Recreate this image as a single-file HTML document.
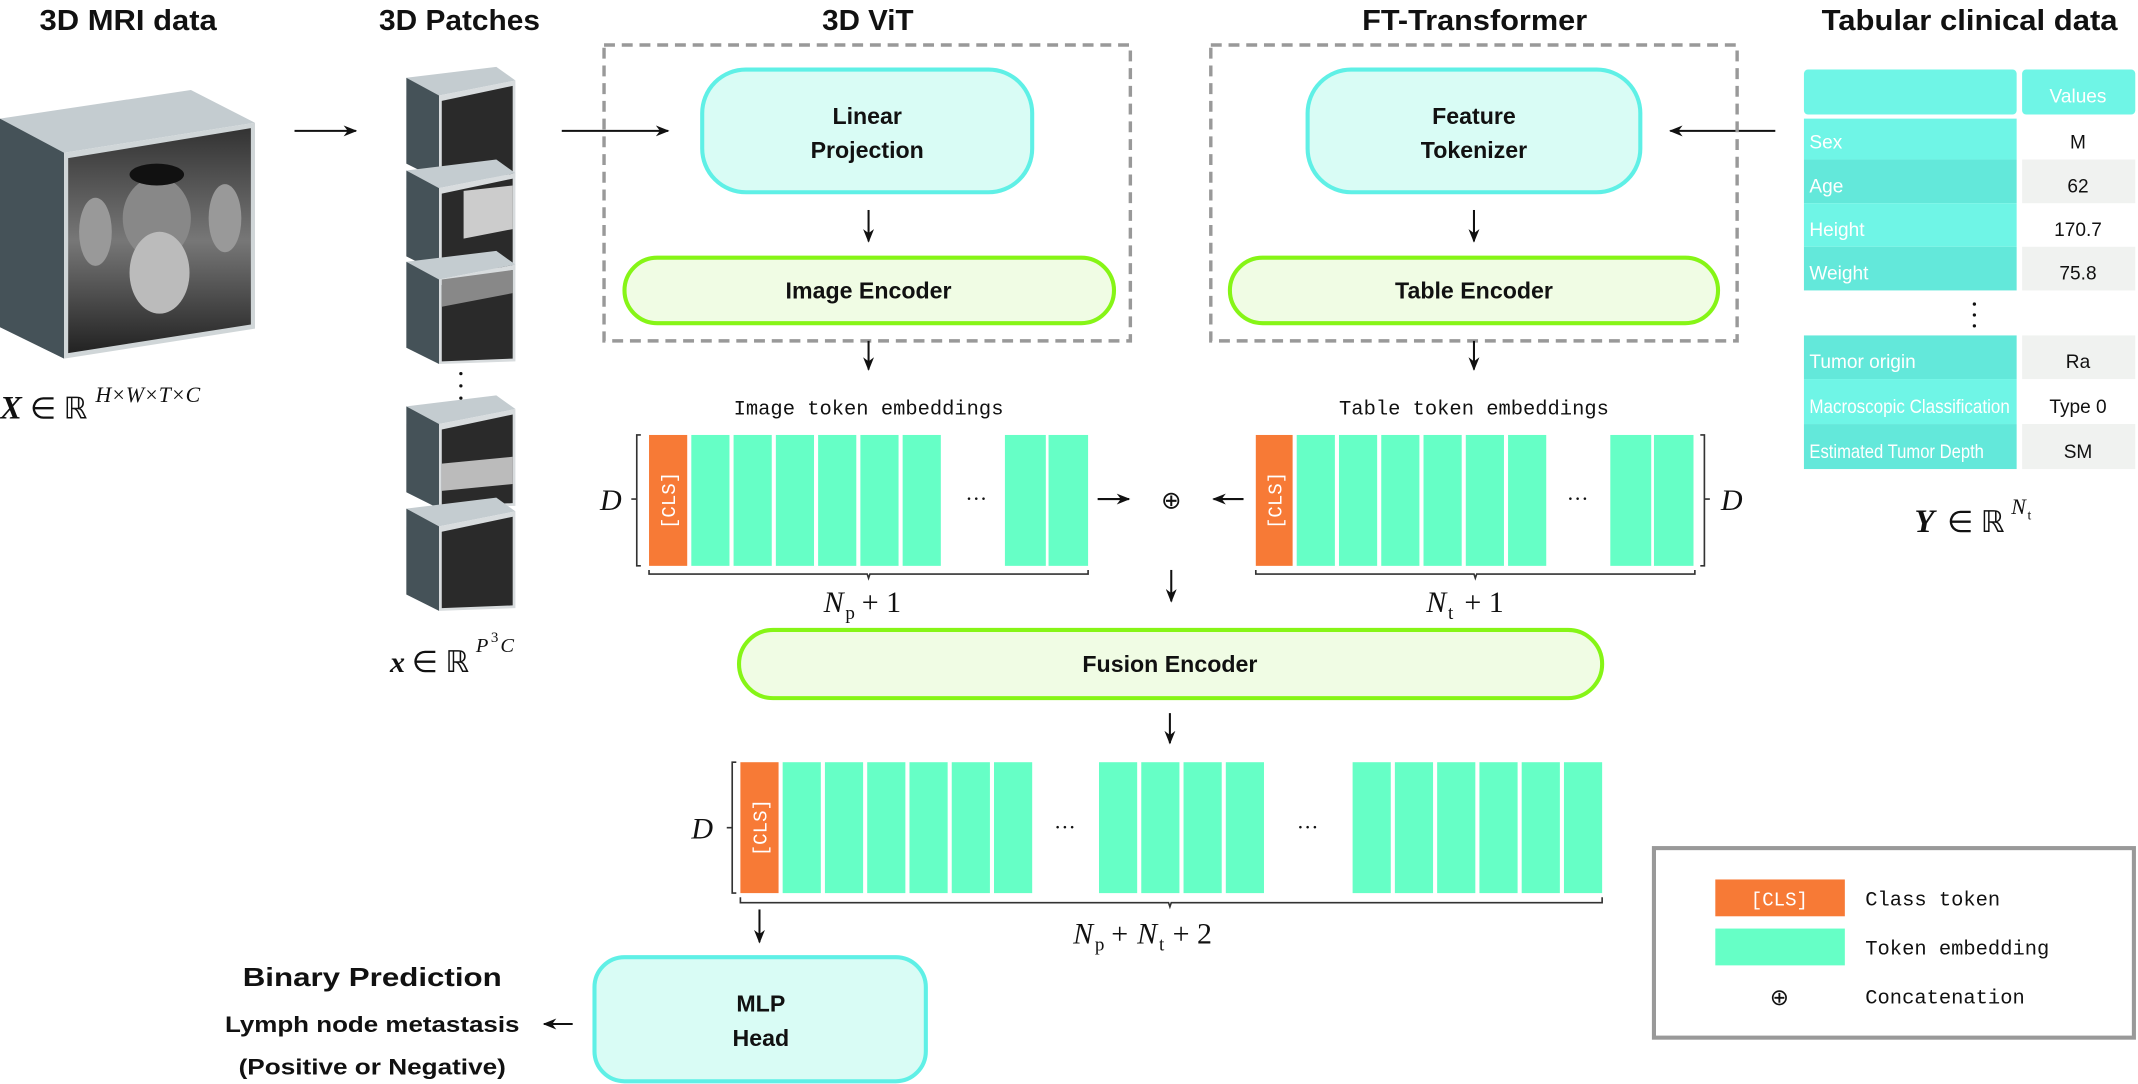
<!DOCTYPE html>
<html><head><meta charset="utf-8"><style>
html,body{margin:0;padding:0;background:#fff}
svg{display:block}
.t{font-family:"Liberation Sans",sans-serif;font-weight:bold;fill:#111}
.m{font-family:"Liberation Mono",monospace;fill:#111}
.s{font-family:"Liberation Serif",serif;font-style:italic;fill:#111}
.r{font-family:"Liberation Serif",serif;fill:#111}
.tb{font-family:"Liberation Sans",sans-serif;font-size:14px}
</style></head><body>
<svg width="2138" height="1084" viewBox="0 0 1568 795" xmlns="http://www.w3.org/2000/svg">
<defs>
<marker id="a" markerWidth="10" markerHeight="8" refX="9" refY="4" orient="auto" markerUnits="userSpaceOnUse"><path d="M0,0 L10,4 L0,8 L3,4z" fill="#111"/></marker>
<linearGradient id="mri" x1="0" y1="0" x2="0" y2="1"><stop offset="0" stop-color="#333"/><stop offset="0.5" stop-color="#777"/><stop offset="1" stop-color="#222"/></linearGradient>
</defs>
<!-- titles -->
<text class="t" x="29" y="22" font-size="21" textLength="130" lengthAdjust="spacingAndGlyphs">3D MRI data</text>
<text class="t" x="278" y="22" font-size="21" textLength="118" lengthAdjust="spacingAndGlyphs">3D Patches</text>
<text class="t" x="603" y="22" font-size="21" textLength="67" lengthAdjust="spacingAndGlyphs">3D ViT</text>
<text class="t" x="999" y="22" font-size="21" textLength="165" lengthAdjust="spacingAndGlyphs">FT-Transformer</text>
<text class="t" x="1336" y="22" font-size="21" textLength="217" lengthAdjust="spacingAndGlyphs">Tabular clinical data</text>

<!-- MRI cube -->
<polygon points="0,87 140,66 187,90 47,112" fill="#c4ccd0"/>
<polygon points="0,87 47,112 47,263 0,240" fill="#455258"/>
<polygon points="47,112 187,90 187,241 47,263" fill="#d0d6d8"/>
<polygon points="50,116 184,94 184,238 50,259" fill="url(#mri)"/>
<ellipse cx="115" cy="160" rx="25" ry="30" fill="#888"/>
<ellipse cx="117" cy="200" rx="22" ry="30" fill="#bbb"/>
<ellipse cx="70" cy="170" rx="12" ry="25" fill="#999"/>
<ellipse cx="165" cy="160" rx="12" ry="25" fill="#999"/>
<ellipse cx="115" cy="128" rx="20" ry="8" fill="#111"/>
<text x="0" y="307" class="s" font-size="24" font-weight="bold">X</text>
<text x="22" y="307" class="r" font-size="22">∈ ℝ</text>
<text x="70" y="295" class="s" font-size="16">H×W×T×C</text>

<!-- patches -->
<g id="p">
<polygon points="298,57 364,49 378,59 322,70" fill="#c4ccd0"/>
<polygon points="298,57 322,70 322,132 298,120" fill="#455258"/>
<polygon points="322,70 378,59 378,130 322,132" fill="#d8dcde"/>
<polygon points="324,74 376,63 376,128 324,130" fill="#2a2a2a"/>
</g>
<use href="#p" y="68" /><use href="#p" y="135"/><use href="#p" y="241"/><use href="#p" y="316"/>
<polygon points="340,140 376,136 376,168 340,175" fill="#ccc"/>
<polygon points="324,205 376,198 376,215 324,225" fill="#888"/>
<polygon points="324,340 376,335 376,355 324,360" fill="#bbb"/>
<circle cx="338" cy="274" r="1.2" fill="#111"/><circle cx="338" cy="283" r="1.2" fill="#111"/><circle cx="338" cy="292" r="1.2" fill="#111"/>
<text x="286" y="493" class="s" font-size="22" font-weight="bold">x</text>
<text x="302" y="493" class="r" font-size="22">∈ ℝ</text>
<text x="349" y="478" class="s" font-size="15">P</text><text x="360" y="471" class="r" font-size="11">3</text><text x="367" y="478" class="s" font-size="15">C</text>

<!-- arrows top -->
<line x1="216" y1="96" x2="261" y2="96" stroke="#111" stroke-width="1.5" marker-end="url(#a)"/>
<line x1="412" y1="96" x2="490" y2="96" stroke="#111" stroke-width="1.5" marker-end="url(#a)"/>
<line x1="1302" y1="96" x2="1225" y2="96" stroke="#111" stroke-width="1.5" marker-end="url(#a)"/>

<!-- dashed boxes -->
<rect x="443" y="33" width="386" height="217" fill="none" stroke="#999" stroke-width="2.5" stroke-dasharray="8,5"/>
<rect x="888" y="33" width="386" height="217" fill="none" stroke="#999" stroke-width="2.5" stroke-dasharray="8,5"/>

<rect x="515" y="51" width="242" height="90" rx="32" fill="#d9fcf5" stroke="#5ff0e6" stroke-width="3"/>
<text class="t" x="636" y="91" font-size="17" text-anchor="middle">Linear</text>
<text class="t" x="636" y="116" font-size="17" text-anchor="middle">Projection</text>
<rect x="458" y="189" width="359" height="48" rx="24" fill="#f0fce4" stroke="#86f516" stroke-width="3"/>
<text class="t" x="637" y="219" font-size="17" text-anchor="middle">Image Encoder</text>

<rect x="959" y="51" width="244" height="90" rx="32" fill="#d9fcf5" stroke="#5ff0e6" stroke-width="3"/>
<text class="t" x="1081" y="91" font-size="17" text-anchor="middle">Feature</text>
<text class="t" x="1081" y="116" font-size="17" text-anchor="middle">Tokenizer</text>
<rect x="902" y="189" width="358" height="48" rx="24" fill="#f0fce4" stroke="#86f516" stroke-width="3"/>
<text class="t" x="1081" y="219" font-size="17" text-anchor="middle">Table Encoder</text>

<g stroke="#111" stroke-width="1.5">
<line x1="637" y1="154" x2="637" y2="177" marker-end="url(#a)"/>
<line x1="1081" y1="154" x2="1081" y2="177" marker-end="url(#a)"/>
<line x1="637" y1="250" x2="637" y2="271" marker-end="url(#a)"/>
<line x1="1081" y1="250" x2="1081" y2="271" marker-end="url(#a)"/>
<line x1="805" y1="366" x2="828" y2="366" marker-end="url(#a)"/>
<line x1="912" y1="366" x2="890" y2="366" marker-end="url(#a)"/>
<line x1="859" y1="418" x2="859" y2="441" marker-end="url(#a)"/>
<line x1="858" y1="523" x2="858" y2="545" marker-end="url(#a)"/>
<line x1="557" y1="667" x2="557" y2="691" marker-end="url(#a)"/>
<line x1="420" y1="751" x2="399" y2="751" marker-end="url(#a)"/>
</g>
<text x="859" y="373" class="r" font-size="18" text-anchor="middle">⊕</text>

<text class="m" x="637" y="304" font-size="15" text-anchor="middle">Image token embeddings</text>
<text class="m" x="1081" y="304" font-size="15" text-anchor="middle">Table token embeddings</text>

<!-- image tokens -->
<g fill="#66ffc6">
<rect x="507" y="319" width="28" height="96"/><rect x="538" y="319" width="28" height="96"/><rect x="569" y="319" width="28" height="96"/><rect x="600" y="319" width="28" height="96"/><rect x="631" y="319" width="28" height="96"/><rect x="662" y="319" width="28" height="96"/><rect x="737" y="319" width="30" height="96"/><rect x="769" y="319" width="29" height="96"/>
<rect x="951" y="319" width="28" height="96"/><rect x="982" y="319" width="28" height="96"/><rect x="1013" y="319" width="28" height="96"/><rect x="1044" y="319" width="28" height="96"/><rect x="1075" y="319" width="28" height="96"/><rect x="1106" y="319" width="28" height="96"/><rect x="1181" y="319" width="30" height="96"/><rect x="1213" y="319" width="29" height="96"/>
</g>
<rect x="476" y="319" width="28" height="96" fill="#f77a36"/>
<rect x="921" y="319" width="27" height="96" fill="#f77a36"/>
<text class="m" transform="translate(495,367) rotate(-90)" font-size="14" fill="#fff" style="fill:#fff" text-anchor="middle">[CLS]</text>
<text class="m" transform="translate(940,367) rotate(-90)" font-size="14" style="fill:#fff" text-anchor="middle">[CLS]</text>
<text x="716" y="371" class="r" font-size="16" text-anchor="middle">···</text>
<text x="1157" y="371" class="r" font-size="16" text-anchor="middle">···</text>
<g fill="none" stroke="#333" stroke-width="1.2">
<path d="M470,319 h-3 v96 h3 M467,366 h-4"/>
<path d="M1247,319 h3 v96 h-3 M1250,366 h4"/>
<path d="M476,418 v3 h160 l1,3 l1,-3 h160 v-3"/>
<path d="M921,418 v3 h160 l1,3 l1,-3 h160 v-3"/>
<path d="M540,559 h-3 v96 h3 M537,607 h-4"/>
<path d="M543,658 v4 h314 l1,3 l1,-3 h316 v-4"/>
</g>
<text x="448" y="374" class="s" font-size="22" text-anchor="middle">D</text>
<text x="1270" y="374" class="s" font-size="22" text-anchor="middle">D</text>
<text x="604" y="449" class="s" font-size="22">N</text><text x="620" y="454" class="r" font-size="14">p</text><text x="632" y="449" class="r" font-size="22">+ 1</text>
<text x="1046" y="449" class="s" font-size="22">N</text><text x="1062" y="454" class="r" font-size="14">t</text><text x="1074" y="449" class="r" font-size="22">+ 1</text>

<!-- fusion -->
<rect x="542" y="462" width="633" height="50" rx="25" fill="#f0fce4" stroke="#86f516" stroke-width="3"/>
<text class="t" x="858" y="493" font-size="17" text-anchor="middle">Fusion Encoder</text>

<!-- bottom tokens -->
<g fill="#66ffc6">
<rect x="574" y="559" width="28" height="96"/><rect x="605" y="559" width="28" height="96"/><rect x="636" y="559" width="28" height="96"/><rect x="667" y="559" width="28" height="96"/><rect x="698" y="559" width="28" height="96"/><rect x="729" y="559" width="28" height="96"/>
<rect x="806" y="559" width="28" height="96"/><rect x="837" y="559" width="28" height="96"/><rect x="868" y="559" width="28" height="96"/><rect x="899" y="559" width="28" height="96"/>
<rect x="992" y="559" width="28" height="96"/><rect x="1023" y="559" width="28" height="96"/><rect x="1054" y="559" width="28" height="96"/><rect x="1085" y="559" width="28" height="96"/><rect x="1116" y="559" width="28" height="96"/><rect x="1147" y="559" width="28" height="96"/>
</g>
<rect x="543" y="559" width="28" height="96" fill="#f77a36"/>
<text class="m" transform="translate(562,607) rotate(-90)" font-size="14" style="fill:#fff" text-anchor="middle">[CLS]</text>
<text x="781" y="612" class="r" font-size="16" text-anchor="middle">···</text>
<text x="959" y="612" class="r" font-size="16" text-anchor="middle">···</text>
<text x="515" y="615" class="s" font-size="22" text-anchor="middle">D</text>
<text x="787" y="692" class="s" font-size="22">N</text><text x="803" y="697" class="r" font-size="14">p</text><text x="815" y="692" class="r" font-size="22">+</text><text x="834" y="692" class="s" font-size="22">N</text><text x="850" y="697" class="r" font-size="14">t</text><text x="860" y="692" class="r" font-size="22">+ 2</text>

<!-- MLP head -->
<rect x="436" y="702" width="243" height="91" rx="22" fill="#d9fcf5" stroke="#5ff0e6" stroke-width="3"/>
<text class="t" x="558" y="742" font-size="17" text-anchor="middle">MLP</text>
<text class="t" x="558" y="767" font-size="17" text-anchor="middle">Head</text>
<text class="t" x="273" y="723" font-size="19" text-anchor="middle" textLength="190" lengthAdjust="spacingAndGlyphs">Binary Prediction</text>
<text class="t" x="273" y="757" font-size="16" text-anchor="middle" textLength="216" lengthAdjust="spacingAndGlyphs">Lymph node metastasis</text>
<text class="t" x="273" y="788" font-size="16" text-anchor="middle" textLength="196" lengthAdjust="spacingAndGlyphs">(Positive or Negative)</text>

<!-- legend -->
<rect x="1213" y="622" width="352" height="139" fill="#fff" stroke="#999" stroke-width="3"/>
<rect x="1258" y="645" width="95" height="27" fill="#f77a36"/>
<text class="m" x="1305" y="664" font-size="14" style="fill:#fff" text-anchor="middle">[CLS]</text>
<rect x="1258" y="681" width="95" height="27" fill="#66ffc6"/>
<text x="1305" y="737" class="r" font-size="17" text-anchor="middle">⊕</text>
<text class="m" x="1368" y="664" font-size="15">Class token</text>
<text class="m" x="1368" y="700" font-size="15">Token embedding</text>
<text class="m" x="1368" y="736" font-size="15">Concatenation</text>

<!-- table -->
<rect x="1323" y="51" width="156" height="33" rx="3" fill="#6ff5e6"/>
<rect x="1483" y="51" width="83" height="33" rx="3" fill="#6ff5e6"/>
<text class="tb" x="1524" y="75" fill="#fff" text-anchor="middle">Values</text>
<rect x="1323" y="87" width="156" height="30" fill="#6ff5e6"/>
<rect x="1323" y="117" width="156" height="32" fill="#63e8da"/>
<rect x="1323" y="149" width="156" height="32" fill="#6ff5e6"/>
<rect x="1323" y="181" width="156" height="32" fill="#63e8da"/>
<rect x="1483" y="117" width="83" height="32" fill="#f0f2f0"/>
<rect x="1483" y="181" width="83" height="32" fill="#f0f2f0"/>
<rect x="1323" y="246" width="156" height="32" fill="#63e8da"/>
<rect x="1323" y="278" width="156" height="33" fill="#6ff5e6"/>
<rect x="1323" y="311" width="156" height="33" fill="#63e8da"/>
<rect x="1483" y="246" width="83" height="32" fill="#f0f2f0"/>
<rect x="1483" y="311" width="83" height="33" fill="#f0f2f0"/>
<g class="tb" fill="#fff">
<text x="1327" y="109">Sex</text><text x="1327" y="141">Age</text><text x="1327" y="173">Height</text><text x="1327" y="205">Weight</text>
<text x="1327" y="270">Tumor origin</text><text x="1327" y="303" textLength="147" lengthAdjust="spacingAndGlyphs">Macroscopic Classification</text><text x="1327" y="336" textLength="128" lengthAdjust="spacingAndGlyphs">Estimated Tumor Depth</text>
</g>
<g class="tb" fill="#111" text-anchor="middle">
<text x="1524" y="109">M</text><text x="1524" y="141">62</text><text x="1524" y="173">170.7</text><text x="1524" y="205">75.8</text>
<text x="1524" y="270">Ra</text><text x="1524" y="303">Type 0</text><text x="1524" y="336">SM</text>
</g>
<circle cx="1448" cy="223" r="1.2" fill="#111"/><circle cx="1448" cy="231" r="1.2" fill="#111"/><circle cx="1448" cy="239" r="1.2" fill="#111"/>
<text x="1404" y="390" class="s" font-size="24" font-weight="bold">Y</text>
<text x="1428" y="390" class="r" font-size="22">∈ ℝ</text>
<text x="1475" y="377" class="s" font-size="16">N</text><text x="1487" y="381" class="r" font-size="10">t</text>
</svg>
</body></html>
